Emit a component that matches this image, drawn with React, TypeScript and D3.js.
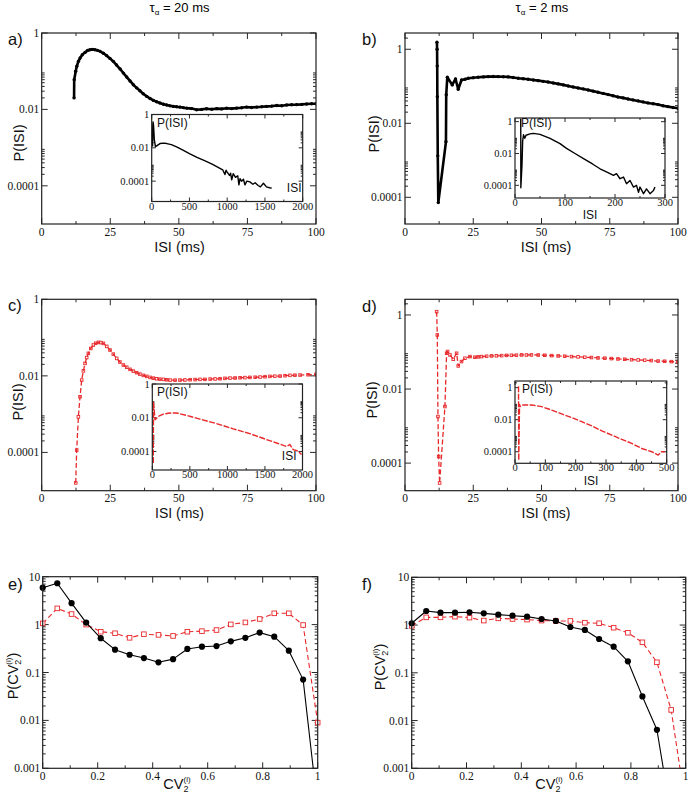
import * as d3 from 'd3'

type Pt = [number, number]

const RED = '#e8282b'
const SERIF = '"Liberation Serif", "DejaVu Serif", serif'
const SANS = '"Liberation Sans", Arial, sans-serif'

// ---- ticks ----
const isiTicks = [0, 25, 50, 75, 100]
const isiTickLabels = ['0', '25', '50', '75', '100']
const isiMinor = [12.5, 37.5, 62.5, 87.5]
const cvTicks = [0, 0.2, 0.4, 0.6, 0.8, 1]
const cvTickLabels = ['0', '0.2', '0.4', '0.6', '0.8', '1']
const cvMinor = [0.1, 0.3, 0.5, 0.7, 0.9]
const pTicks = [1, 0.01, 0.0001]
const pTickLabels = ['1', '0.01', '0.0001']
const cvPTicks = [10, 1, 0.1, 0.01, 0.001]
const cvPTickLabels = ['10', '1', '0.1', '0.01', '0.001']
const minorMult = [2, 3, 4, 5, 6, 7, 8, 9]
const longTicks = [0, 500, 1000, 1500, 2000]
const longTickLabels = ['0', '500', '1000', '1500', '2000']
const longMinor = [250, 750, 1250, 1750]
const shortTicks = [0, 100, 200, 300]
const shortTickLabels = ['0', '100', '200', '300']
const shortMinor = [50, 150, 250]
const midTicks = [0, 100, 200, 300, 400, 500]
const midTickLabels = ['0', '100', '200', '300', '400', '500']
const midMinor = [50, 150, 250, 350, 450]

// ---- data: ISI distributions (ms, probability) ----
const aMain: Pt[] = [
  [11.8, 0.02], [11.85, 0.06], [12.4, 0.1], [12.8, 0.135], [13.4, 0.182], [14.0, 0.221], [14.8, 0.269],
  [15.8, 0.311], [16.7, 0.347], [17.6, 0.366], [18.5, 0.372], [19.4, 0.366], [20.3, 0.351], [21.3, 0.331],
  [22.5, 0.295], [23.7, 0.255], [24.9, 0.216], [26.1, 0.181], [27.3, 0.145], [28.6, 0.114], [29.8, 0.0891],
  [31.0, 0.0703], [32.2, 0.0556], [33.4, 0.0443], [34.6, 0.0367], [35.8, 0.0309], [37.0, 0.0257],
  [38.3, 0.0219], [39.5, 0.0193], [40.7, 0.0172], [41.9, 0.0158], [43.1, 0.0147], [44.4, 0.0137],
  [45.6, 0.013], [46.8, 0.0124], [48.0, 0.012], [49.2, 0.0117], [50.4, 0.0115], [51.7, 0.0111],
  [52.9, 0.0108], [54.7, 0.0105], [56.5, 0.0098], [58.3, 0.01], [60.1, 0.0104], [62.0, 0.0101],
  [63.8, 0.0105], [65.6, 0.0103], [67.4, 0.0107], [69.2, 0.0105], [71.1, 0.0108], [72.9, 0.011],
  [74.7, 0.0115], [76.5, 0.0112], [78.4, 0.0115], [80.2, 0.0117], [82.0, 0.012], [83.8, 0.0122],
  [85.7, 0.0127], [87.5, 0.0125], [89.3, 0.013], [91.1, 0.0132], [92.9, 0.0133], [94.8, 0.0135],
  [96.6, 0.0138], [98.4, 0.014], [100, 0.0141],
]
const aInset: Pt[] = [
  [11.8, 0.012], [14, 0.2], [18, 0.36], [25, 0.2], [35, 0.03], [50, 0.0115], [70, 0.0135], [110, 0.018],
  [160, 0.019], [200, 0.018], [260, 0.0155], [330, 0.0115], [420, 0.007], [500, 0.0045], [600, 0.0027],
  [700, 0.0017], [800, 0.00105], [880, 0.00068], [940, 0.00048], [970, 0.00025], [985, 0.00045],
  [1000, 0.00035], [1030, 0.00022], [1045, 0.0003], [1060, 0.00012], [1080, 0.00028], [1110, 0.00017],
  [1140, 0.00021], [1155, 6e-5], [1170, 0.00014], [1190, 0.0001], [1215, 0.00013], [1235, 6e-5],
  [1260, 0.0001], [1300, 9e-5], [1340, 6.5e-5], [1370, 8e-5], [1410, 5.5e-5], [1440, 4.5e-5],
  [1480, 7.5e-5], [1520, 4.5e-5], [1560, 4e-5], [1590, 3.8e-5],
]
const bMain: Pt[] = [
  [11.7, 1.55], [11.75, 1.0], [11.8, 0.355], [11.85, 0.0525], [12.0, 0.00132], [12.2, 7.2e-5],
  [15.0, 0.00316], [15.1, 0.0589], [15.5, 0.175], [17.3, 0.109], [18.5, 0.158], [19.5, 0.0832],
  [20.7, 0.148], [22.0, 0.155], [23.2, 0.164], [25.0, 0.17], [26.8, 0.175], [28.7, 0.179], [30.5, 0.182],
  [32.3, 0.183], [34.1, 0.182], [36.0, 0.181], [37.8, 0.179], [39.6, 0.172], [41.5, 0.164], [43.3, 0.16],
  [45.1, 0.155], [47.0, 0.148], [48.8, 0.142], [50.6, 0.136], [52.4, 0.131], [54.3, 0.123], [56.1, 0.116],
  [58.0, 0.109], [59.8, 0.102], [61.6, 0.096], [63.4, 0.0902], [65.3, 0.0848], [67.1, 0.0794],
  [68.9, 0.074], [70.7, 0.0689], [72.6, 0.0642], [74.4, 0.0596], [76.2, 0.0556], [78.0, 0.0515],
  [79.9, 0.0485], [81.7, 0.0455], [83.5, 0.0428], [85.4, 0.0402], [87.2, 0.0378], [89.0, 0.0355],
  [90.9, 0.0336], [92.7, 0.032], [94.5, 0.0298], [96.3, 0.0282], [98.2, 0.0266], [100, 0.0254],
]
const bInset: Pt[] = [
  [11.5, 1.5], [11.7, 7e-5], [14, 0.002], [15.3, 0.06], [17, 0.15], [19.5, 0.09], [22, 0.14], [30, 0.17],
  [37, 0.185], [50, 0.16], [70, 0.09], [90, 0.042], [103, 0.021], [120, 0.01], [137, 0.0048], [155, 0.0022],
  [170, 0.0011], [185, 0.00065], [197, 0.00042], [203, 0.00054], [210, 0.00026], [217, 0.00033],
  [223, 0.000126], [230, 0.0002], [237, 7.8e-5], [243, 0.0001], [247, 3.7e-5], [250, 7.8e-5], [257, 3e-5],
  [263, 6e-5], [270, 3e-5], [277, 4.8e-5], [280, 7.8e-5],
]
const cMain: Pt[] = [
  [12.4, 1.6e-5], [12.76, 1.15e-4], [13.37, 8.5e-4], [13.97, 0.00284], [14.58, 0.00776], [15.2, 0.0135],
  [15.8, 0.0212], [16.4, 0.03], [17.0, 0.0387], [17.9, 0.052], [18.83, 0.064], [19.7, 0.071], [20.66, 0.075],
  [21.6, 0.074], [22.48, 0.0706], [23.7, 0.059], [24.9, 0.0473], [26.1, 0.037], [27.34, 0.0286], [28.5, 0.023],
  [29.77, 0.0192], [31.0, 0.0168], [32.2, 0.0148], [33.4, 0.0133], [34.6, 0.0121], [35.8, 0.0111],
  [37.06, 0.0103], [38.3, 0.0097], [39.5, 0.00912], [40.7, 0.0087], [41.9, 0.00841], [43.1, 0.0082],
  [44.35, 0.00809], [45.6, 0.0079], [46.8, 0.00776], [48.6, 0.0077], [50.4, 0.00776], [52.2, 0.0078],
  [54.1, 0.00794], [55.9, 0.008], [57.7, 0.00809], [59.5, 0.0081], [61.4, 0.00824], [63.2, 0.0083],
  [65.0, 0.00841], [66.8, 0.0086], [68.65, 0.00875], [70.5, 0.0088], [72.3, 0.00893], [74.1, 0.009],
  [75.9, 0.00912], [77.8, 0.0092], [79.6, 0.00931], [81.4, 0.0095], [83.2, 0.00968], [85.0, 0.0098],
  [86.9, 0.00988], [88.7, 0.0101], [90.5, 0.0103], [92.3, 0.0104], [94.2, 0.0105], [97.1, 0.0107],
  [100, 0.0109],
]
const cInset: Pt[] = [
  [13, 2.1e-5], [16, 0.08], [25, 0.03], [36, 0.0076], [80, 0.012], [146, 0.0165], [235, 0.019], [324, 0.019],
  [457, 0.0138], [634, 0.0083], [856, 0.0045], [1078, 0.0022], [1299, 0.00114], [1521, 0.00051],
  [1654, 0.00032], [1787, 0.0002], [1831, 0.00026], [1876, 0.00013], [1942, 0.000105], [1987, 6.6e-5],
]
const dMain: Pt[] = [
  [11.59, 1.23], [11.83, 0.289], [12.07, 0.00181], [12.32, 1.51e-4], [12.68, 2.9e-5], [14.63, 0.00337],
  [15.24, 0.0925], [15.6, 0.103], [16.46, 0.0834], [17.68, 0.0637], [18.9, 0.0925], [19.5, 0.0421],
  [20.7, 0.0552], [21.95, 0.0678], [23.78, 0.0752], [25.6, 0.0722], [26.8, 0.074], [28.05, 0.0752],
  [29.9, 0.077], [31.7, 0.0784], [33.5, 0.079], [35.4, 0.08], [37.2, 0.081], [39.0, 0.0817], [40.8, 0.082],
  [42.7, 0.0834], [44.5, 0.083], [46.3, 0.0834], [48.8, 0.083], [51.2, 0.0817], [53.7, 0.08], [56.1, 0.0784],
  [58.5, 0.077], [61.0, 0.0752], [63.4, 0.074], [65.85, 0.0722], [68.3, 0.071], [70.7, 0.0692],
  [73.2, 0.068], [75.6, 0.0664], [78.0, 0.065], [80.5, 0.0637], [83.0, 0.062], [85.4, 0.0611],
  [87.8, 0.06], [90.2, 0.0587], [92.7, 0.057], [95.1, 0.0563], [97.6, 0.055], [100, 0.054],
]
const dInset: Pt[] = [
  [11.6, 1.23], [12.3, 2.9e-5], [15, 0.09], [16.5, 0.065], [27, 0.083], [55, 0.083], [88, 0.065],
  [121, 0.04], [154, 0.023], [187, 0.0134], [220, 0.0075], [253, 0.0041], [286, 0.002], [319, 0.0011],
  [352, 0.00059], [385, 0.00033], [418, 0.00016], [451, 0.0001], [472, 6.2e-5], [483, 0.0001],
  [494, 0.0001],
]

// ---- data: CV2 distributions ----
const cvBins = [0, 0.053, 0.105, 0.158, 0.211, 0.263, 0.316, 0.368, 0.421, 0.474, 0.526, 0.579, 0.632,
  0.684, 0.737, 0.789, 0.842, 0.895, 0.947, 1]
const eBlack = [5.9, 7.3, 2.8, 1.1, 0.52, 0.3, 0.235, 0.2, 0.163, 0.19, 0.31, 0.346, 0.357, 0.447, 0.53,
  0.68, 0.56, 0.286, 0.071, 0.00015]
const eRed = [1.06, 2.18, 1.66, 1.0, 0.71, 0.66, 0.53, 0.63, 0.61, 0.58, 0.71, 0.73, 0.77, 1.01, 1.11,
  1.31, 1.72, 1.72, 0.98, 0.009]
const fBlack = [1.09, 1.97, 1.82, 1.82, 1.85, 1.76, 1.65, 1.57, 1.5, 1.34, 1.22, 0.91, 0.79, 0.51, 0.353,
  0.174, 0.032, 0.0064, 0.0001]
const fRed = [0.96, 1.45, 1.45, 1.5, 1.43, 1.24, 1.38, 1.34, 1.3, 1.24, 1.22, 1.22, 1.12, 1.09, 0.88,
  0.69, 0.435, 0.166, 0.0167, 0.00016]

const zip = (xs: number[], ys: number[]): Pt[] => ys.map((v, i) => [xs[i], v])

interface Series {
  data: Pt[]
  color: string
  width: number
  dash?: string
  marker?: 'dot' | 'square'
  size?: number
  fill?: string
  clipMarkers?: boolean
}

interface PlotProps {
  id: string
  box: [number, number, number, number]
  xDomain: [number, number]
  yDomain: [number, number]
  xTicks: number[]
  xLabels: string[]
  xMinor: number[]
  yTicks: number[]
  yLabels: string[]
  tick: number
  minor: number
  fontSize: number
  xLabelGap: number
  series: Series[]
}

function Plot(p: PlotProps) {
  const [x0, y0, x1, y1] = p.box
  const x = d3.scaleLinear().domain(p.xDomain).range([x0, x1])
  const y = d3.scaleLog().domain(p.yDomain).range([y1, y0])
  const line = d3.line<Pt>().x(d => x(d[0])).y(d => y(d[1]))
  const yMinor = p.yTicks
    .flatMap(m => minorMult.map(k => m * k))
    .filter(v => v > p.yDomain[0] && v < p.yDomain[1])
  const yMajor = p.yTicks.filter(v => v >= p.yDomain[0] && v <= p.yDomain[1])

  return (
    <g>
      <rect x={x0} y={y0} width={x1 - x0} height={y1 - y0} fill="white" />
      <clipPath id={p.id}>
        <rect x={x0} y={y0} width={x1 - x0} height={y1 - y0} />
      </clipPath>
      {/* ticks, inward on all four sides */}
      <g stroke="#111" strokeWidth={0.9}>
        {p.xTicks.map(v => (
          <g key={'xt' + v}>
            <line x1={x(v)} x2={x(v)} y1={y1} y2={y1 - p.tick} />
            <line x1={x(v)} x2={x(v)} y1={y0} y2={y0 + p.tick} />
          </g>
        ))}
        {p.xMinor.map(v => (
          <g key={'xm' + v}>
            <line x1={x(v)} x2={x(v)} y1={y1} y2={y1 - p.minor} />
            <line x1={x(v)} x2={x(v)} y1={y0} y2={y0 + p.minor} />
          </g>
        ))}
        {yMajor.map(v => (
          <g key={'yt' + v}>
            <line x1={x0} x2={x0 + p.tick} y1={y(v)} y2={y(v)} />
            <line x1={x1} x2={x1 - p.tick} y1={y(v)} y2={y(v)} />
          </g>
        ))}
        {yMinor.map(v => (
          <g key={'ym' + v}>
            <line x1={x0} x2={x0 + p.minor} y1={y(v)} y2={y(v)} />
            <line x1={x1} x2={x1 - p.minor} y1={y(v)} y2={y(v)} />
          </g>
        ))}
      </g>
      {p.series.map((s, i) => {
        const pts = s.data.filter(d => d[1] >= p.yDomain[0] && d[1] <= p.yDomain[1])
        const sz = s.size ?? 2
        return (
          <g key={i}>
            <path
              d={line(s.data) ?? ''}
              clipPath={`url(#${p.id})`}
              fill="none"
              stroke={s.color}
              strokeWidth={s.width}
              strokeDasharray={s.dash}
              strokeLinejoin="round"
            />
            <g clipPath={s.clipMarkers ? `url(#${p.id})` : undefined}>
              {s.marker === 'dot' &&
                pts.map((d, j) => <circle key={j} cx={x(d[0])} cy={y(d[1])} r={sz} fill={s.color} />)}
              {s.marker === 'square' &&
                pts.map((d, j) => (
                  <rect
                    key={j}
                    x={x(d[0]) - sz / 2}
                    y={y(d[1]) - sz / 2}
                    width={sz}
                    height={sz}
                    fill={s.fill ?? 'none'}
                    stroke={s.color}
                    strokeWidth={0.9}
                  />
                ))}
            </g>
          </g>
        )
      })}
      <rect x={x0} y={y0} width={x1 - x0} height={y1 - y0} fill="none" stroke="#222" strokeWidth={1.2} />
      <g fontFamily={SERIF} fontSize={p.fontSize} fill="#111">
        {p.xTicks.map((v, i) => (
          <text key={'xl' + v} x={x(v)} y={y1 + p.xLabelGap} textAnchor="middle">
            {p.xLabels[i]}
          </text>
        ))}
        {p.yTicks.map((v, i) =>
          v >= p.yDomain[0] && v <= p.yDomain[1] ? (
            <text key={'yl' + v} x={x0 - 2.5} y={y(v)} dy="0.35em" textAnchor="end">
              {p.yLabels[i]}
            </text>
          ) : null
        )}
      </g>
    </g>
  )
}

const mainCommon = {
  xTicks: isiTicks,
  xLabels: isiTickLabels,
  xMinor: isiMinor,
  yTicks: pTicks,
  yLabels: pTickLabels,
  tick: 6,
  minor: 3,
  fontSize: 11.5,
  xLabelGap: 11.5,
}
const insetCommon = {
  yTicks: pTicks,
  yLabels: pTickLabels,
  tick: 4,
  minor: 2,
  fontSize: 10.5,
  xLabelGap: 8,
}

const blackDense = { color: '#000', width: 2.6, marker: 'dot' as const, size: 1.7, clipMarkers: true }
const redDense = { color: RED, width: 1.3, dash: '5,2.5', marker: 'square' as const, size: 2.6, clipMarkers: true }

function YTitle({ x, y, children }: { x: number; y: number; children: any }) {
  return (
    <text
      transform={`translate(${x},${y}) rotate(-90)`}
      textAnchor="middle"
      y={5}
      fontFamily={SANS}
      fontSize={14.5}
      fill="#111"
    >
      {children}
    </text>
  )
}

function CvText() {
  return (
    <>
      CV<tspan fontSize={9} dy={3}>2</tspan>
      <tspan fontSize={8} dx={-5} dy={-10}>(i)</tspan>
    </>
  )
}

export default function App() {
  const panelLabel = { fontFamily: SANS, fontSize: 16.5, fill: '#111' }
  const axisTitle = { fontFamily: SANS, fontSize: 14.5, fill: '#111', textAnchor: 'middle' as const }
  const lowTitle = { ...axisTitle, fontSize: 14 }
  const insetText = { fontFamily: SANS, fontSize: 12, fill: '#111' }
  return (
    <svg width={690} height={800} style={{ position: 'absolute', left: 0, top: 0, background: 'white' }}>
      <rect width={690} height={800} fill="white" />
      <text x={179.5} y={12} textAnchor="middle" fontFamily={SANS} fontSize={13}>
        τ<tspan fontSize={8} dy={3}>α</tspan>
        <tspan dy={-3}> = 20 ms</tspan>
      </text>
      <text x={542} y={12} textAnchor="middle" fontFamily={SANS} fontSize={13}>
        τ<tspan fontSize={8} dy={3}>α</tspan>
        <tspan dy={-3}> = 2 ms</tspan>
      </text>

      {/* a) */}
      <Plot id="pa" box={[41.7, 33, 316, 224]} xDomain={[0, 100]} yDomain={[1e-5, 1]} {...mainCommon}
        series={[{ data: aMain, ...blackDense }]} />
      <Plot id="pai" box={[151.7, 114.5, 302.7, 201.5]} xDomain={[0, 2000]} yDomain={[6e-6, 1]}
        xTicks={longTicks} xLabels={longTickLabels} xMinor={longMinor} {...insetCommon}
        series={[{ data: aInset, color: '#000', width: 1.4 }]} />
      <text x={157} y={127} {...insetText}>P(ISI)</text>
      <text x={301.5} y={192} textAnchor="end" {...insetText}>ISI</text>
      <text x={8} y={44.5} {...panelLabel}>a)</text>
      <YTitle x={19} y={143}>P(ISI)</YTitle>
      <text x={179.5} y={252} {...axisTitle}>ISI (ms)</text>

      {/* b) */}
      <Plot id="pb" box={[405, 33, 678, 224]} xDomain={[0, 100]} yDomain={[1.9e-5, 2.75]} {...mainCommon}
        series={[{ data: bMain, ...blackDense }]} />
      <Plot id="pbi" box={[515, 118, 665, 198]} xDomain={[0, 300]} yDomain={[1.6e-5, 1.7]}
        xTicks={shortTicks} xLabels={shortTickLabels} xMinor={shortMinor} {...insetCommon}
        series={[{ data: bInset, color: '#000', width: 1.4 }]} />
      <text x={521} y={127} {...insetText}>P(ISI)</text>
      <text x={590} y={219} textAnchor="middle" {...insetText}>ISI</text>
      <text x={362} y={44.5} {...panelLabel}>b)</text>
      <YTitle x={374} y={134}>P(ISI)</YTitle>
      <text x={546} y={252} {...axisTitle}>ISI (ms)</text>

      {/* c) */}
      <Plot id="pc" box={[41.7, 299.3, 316, 490.7]} xDomain={[0, 100]} yDomain={[1e-5, 1]} {...mainCommon}
        series={[{ data: cMain, ...redDense }]} />
      <Plot id="pci" box={[152.3, 384, 302.5, 470]} xDomain={[0, 2000]} yDomain={[8e-6, 1]}
        xTicks={longTicks} xLabels={longTickLabels} xMinor={longMinor} {...insetCommon}
        series={[{ data: cInset, color: RED, width: 1.4, dash: '6,1.5' }]} />
      <text x={157} y={396} {...insetText}>P(ISI)</text>
      <text x={296.5} y={460} textAnchor="end" {...insetText}>ISI</text>
      <text x={8} y={310.5} {...panelLabel}>c)</text>
      <YTitle x={17.5} y={402}>P(ISI)</YTitle>
      <text x={179.5} y={518} {...lowTitle}>ISI (ms)</text>

      {/* d) */}
      <Plot id="pd" box={[405, 299.3, 678, 490.7]} xDomain={[0, 100]} yDomain={[1.8e-5, 2.65]} {...mainCommon}
        series={[{ data: dMain, ...redDense }]} />
      <Plot id="pdi" box={[515, 381, 666.7, 463.3]} xDomain={[0, 500]} yDomain={[1.9e-5, 2.6]}
        xTicks={midTicks} xLabels={midTickLabels} xMinor={midMinor} {...insetCommon}
        series={[{ data: dInset, color: RED, width: 1.4, dash: '6,1.5' }]} />
      <text x={522} y={393} {...insetText}>P(ISI)</text>
      <text x={591} y={485} textAnchor="middle" {...insetText}>ISI</text>
      <text x={362} y={311.5} {...panelLabel}>d)</text>
      <YTitle x={372} y={400}>P(ISI)</YTitle>
      <text x={546} y={518} {...lowTitle}>ISI (ms)</text>

      {/* e) */}
      <Plot id="pe" box={[42.7, 576.7, 317.7, 768.3]} xDomain={[0, 1]} yDomain={[0.001, 10]}
        xTicks={cvTicks} xLabels={cvTickLabels} xMinor={cvMinor} yTicks={cvPTicks} yLabels={cvPTickLabels}
        tick={6} minor={3} fontSize={11.5} xLabelGap={12}
        series={[
          { data: zip(cvBins, eRed), color: RED, width: 1.1, dash: '5,3', marker: 'square', size: 4.6, fill: 'white' },
          { data: zip(cvBins, eBlack), color: '#000', width: 1.1, marker: 'dot', size: 3.1 },
        ]} />
      <text x={8} y={589.5} {...panelLabel}>e)</text>
      <YTitle x={13} y={676}>
        P(CV<tspan fontSize={9} dy={3}>2</tspan>
        <tspan fontSize={8} dx={-5} dy={-10}>(i)</tspan>
        <tspan dy={7}>)</tspan>
      </YTitle>
      <text x={177} y={789} {...axisTitle}><CvText /></text>

      {/* f) */}
      <Plot id="pf" box={[411.7, 577.3, 685.7, 768.3]} xDomain={[0, 1]} yDomain={[0.001, 10]}
        xTicks={cvTicks} xLabels={cvTickLabels} xMinor={cvMinor} yTicks={cvPTicks} yLabels={cvPTickLabels}
        tick={6} minor={3} fontSize={11.5} xLabelGap={12}
        series={[
          { data: zip(cvBins, fRed), color: RED, width: 1.1, dash: '5,3', marker: 'square', size: 4.6, fill: 'white' },
          { data: zip(cvBins, fBlack), color: '#000', width: 1.1, marker: 'dot', size: 3.1 },
        ]} />
      <text x={362} y={589.5} {...panelLabel}>f)</text>
      <YTitle x={380} y={667}>
        P(CV<tspan fontSize={9} dy={3}>2</tspan>
        <tspan fontSize={8} dx={-5} dy={-10}>(i)</tspan>
        <tspan dy={7}>)</tspan>
      </YTitle>
      <text x={549} y={789} {...axisTitle}><CvText /></text>
    </svg>
  )
}
